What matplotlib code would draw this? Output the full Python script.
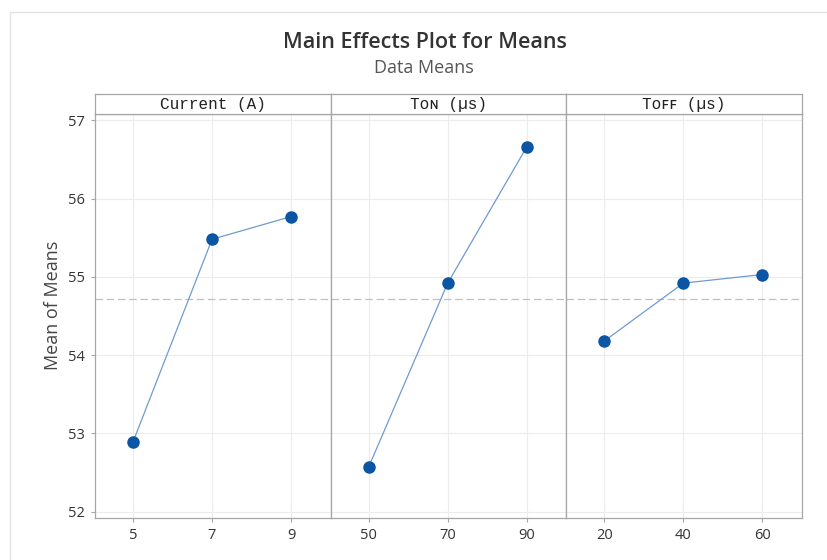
import matplotlib.pyplot as plt
from matplotlib.patches import Rectangle

# factor levels and mean response at each level
current_levels = ["5", "7", "9"]
current_means = [52.89, 55.48, 55.77]
ton_levels = ["50", "70", "90"]
ton_means = [52.57, 54.92, 56.66]
toff_levels = ["20", "40", "60"]
toff_means = [54.18, 54.92, 55.03]
grand_mean = 54.72

yticks = [52, 53, 54, 55, 56, 57]

W, H = 827, 560
fig = plt.figure(figsize=(W / 100, H / 100), dpi=100)
fig.patch.set_facecolor("white")

# faint frame around the graph window
fig.patches.append(Rectangle((10 / W, -0.05), 1.1, 1 - 12 / H + 0.05, transform=fig.transFigure,
                             fill=False, edgecolor="#e3e3e3", linewidth=1.0))

sans = ["Open Sans", "DejaVu Sans"]
mono = ["Liberation Mono", "DejaVu Sans Mono", "DejaVu Sans"]

fig.text(425 / W, 1 - 42 / H, "Main Effects Plot for Means", ha="center", va="center",
         fontsize=15.5, fontweight="semibold", color="#333333", family=sans)
fig.text(424 / W, 1 - 68 / H, "Data Means", ha="center", va="center",
         fontsize=13, color="#555555", family=sans)

left, right = 95 / W, 802 / W
bottom, top = 1 - 518 / H, 1 - 114 / H
head_top = 1 - 94 / H
pw = (right - left) / 3

panels = [
    (current_levels, current_means, "Current (A)"),
    (ton_levels, ton_means, "T\u1d0f\u0274 (\u00b5s)"),
    (toff_levels, toff_means, "T\u1d0f\ua730\ua730 (\u00b5s)"),
]

edge = "#a6a6a6"
for i, (levels, means, header) in enumerate(panels):
    ax = fig.add_axes([left + i * pw, bottom, pw, top - bottom])
    xs = list(range(len(levels)))
    ax.set_xlim(-0.48, 2.5)
    ax.set_ylim(51.92, 57.08)
    ax.grid(True, color="#ececec", linewidth=0.8)
    ax.set_axisbelow(True)
    ax.axhline(grand_mean, color="#c0c0c0", linestyle=(0, (6, 3)), linewidth=0.9, zorder=1)
    ax.plot(xs, means, color="#6f9bcf", linewidth=0.9, zorder=2)
    ax.plot(xs, means, "o", color="#0a56a4", markersize=8, zorder=3)
    ax.set_xticks(xs)
    ax.set_xticklabels(levels)
    ax.set_yticks(yticks)
    for s in ax.spines.values():
        s.set_color(edge)
        s.set_linewidth(0.9)
    ax.tick_params(axis="both", colors=edge, labelcolor="#333333", labelsize=10.5,
                   length=3, width=0.8, pad=4)
    for lab in ax.get_xticklabels() + ax.get_yticklabels():
        lab.set_family(sans)
    if i == 0:
        ax.set_ylabel("Mean of Means", fontsize=13, color="#444444", family=sans)
        ax.yaxis.set_label_coords(-0.138, 0.527)
    else:
        ax.tick_params(axis="y", left=False, labelleft=False)

    # panel header strip
    hx = fig.add_axes([left + i * pw, top, pw, head_top - top])
    hx.set_xticks([])
    hx.set_yticks([])
    hx.set_facecolor("white")
    for s in hx.spines.values():
        s.set_color(edge)
        s.set_linewidth(0.9)
    hx.text(0.5, 0.48, header, ha="center", va="center", fontsize=11.5,
            color="#222222", family=mono, transform=hx.transAxes)

fig.savefig("out.png", dpi=100)
